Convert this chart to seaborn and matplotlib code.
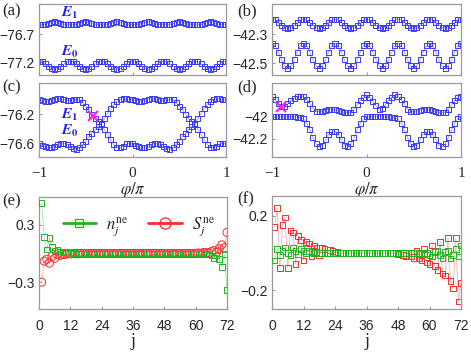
import numpy as np
import pandas as pd
import seaborn as sns
import matplotlib.pyplot as plt
from matplotlib.lines import Line2D

sns.set_theme(style='white')
plt.rcParams['font.family'] = ['Liberation Sans', 'DejaVu Sans']
plt.rcParams['mathtext.fontset'] = 'stix'
plt.rcParams['axes.unicode_minus'] = True

# ---------------- data ----------------
phi = np.round(np.linspace(-1, 1, 61), 5)

a_E1 = [-76.53, -76.53, -76.525, -76.51, -76.49, -76.475, -76.49, -76.51, -76.525, -76.53,
        -76.53, -76.53, -76.525, -76.51, -76.49, -76.475, -76.49, -76.51, -76.525, -76.53,
        -76.53, -76.53, -76.525, -76.51, -76.49, -76.475, -76.49, -76.51, -76.525, -76.53,
        -76.53, -76.53, -76.525, -76.51, -76.49, -76.475, -76.49, -76.51, -76.525, -76.53,
        -76.53, -76.53, -76.525, -76.51, -76.49, -76.475, -76.49, -76.51, -76.525, -76.53,
        -76.53, -76.53, -76.525, -76.51, -76.49, -76.475, -76.49, -76.51, -76.525, -76.53,
        -76.53]
a_E0 = [-77.18, -77.194, -77.232, -77.278, -77.316, -77.33, -77.316, -77.278, -77.232, -77.194,
        -77.18, -77.194, -77.232, -77.278, -77.316, -77.33, -77.316, -77.278, -77.232, -77.194,
        -77.18, -77.194, -77.232, -77.278, -77.316, -77.33, -77.316, -77.278, -77.232, -77.194,
        -77.18, -77.194, -77.232, -77.278, -77.316, -77.33, -77.316, -77.278, -77.232, -77.194,
        -77.18, -77.194, -77.232, -77.278, -77.316, -77.33, -77.316, -77.278, -77.232, -77.194,
        -77.18, -77.194, -77.232, -77.278, -77.316, -77.33, -77.316, -77.278, -77.232, -77.194,
        -77.18]
b_E1 = [-42.198, -42.204, -42.220, -42.240, -42.256, -42.262, -42.256, -42.240, -42.220, -42.204,
        -42.198, -42.204, -42.220, -42.240, -42.256, -42.262, -42.256, -42.240, -42.220, -42.204,
        -42.198, -42.204, -42.220, -42.240, -42.256, -42.262, -42.256, -42.240, -42.220, -42.204,
        -42.198, -42.204, -42.220, -42.240, -42.256, -42.262, -42.256, -42.240, -42.220, -42.204,
        -42.198, -42.204, -42.220, -42.240, -42.256, -42.262, -42.256, -42.240, -42.220, -42.204,
        -42.198, -42.204, -42.220, -42.240, -42.256, -42.262, -42.256, -42.240, -42.220, -42.204,
        -42.198]
b_E0 = [-42.364, -42.380, -42.423, -42.475, -42.518, -42.534, -42.518, -42.475, -42.423, -42.380,
        -42.364, -42.380, -42.423, -42.475, -42.518, -42.534, -42.518, -42.475, -42.423, -42.380,
        -42.364, -42.380, -42.423, -42.475, -42.518, -42.534, -42.518, -42.475, -42.423, -42.380,
        -42.364, -42.380, -42.423, -42.475, -42.518, -42.534, -42.518, -42.475, -42.423, -42.380,
        -42.364, -42.380, -42.423, -42.475, -42.518, -42.534, -42.518, -42.475, -42.423, -42.380,
        -42.364, -42.380, -42.423, -42.475, -42.518, -42.534, -42.518, -42.475, -42.423, -42.380,
        -42.364]
c_E1 = [-76.0, -76.01, -76.02, -76.02, -76.01, -75.995, -75.99, -75.99, -76.0, -76.01,
        -76.01, -76.0, -75.995, -76.0, -76.04, -76.09, -76.14, -76.2, -76.26, -76.3,
        -76.34, -76.41, -76.48, -76.55, -76.62, -76.66, -76.66, -76.64, -76.61, -76.6,
        -76.61, -76.63, -76.65, -76.66, -76.66, -76.65, -76.62, -76.6, -76.6, -76.62,
        -76.65, -76.67, -76.68, -76.66, -76.62, -76.57, -76.51, -76.46, -76.41, -76.37,
        -76.33, -76.26, -76.19, -76.12, -76.06, -76.02, -76.0, -75.99, -75.99, -76.0,
        -76.0]
c_E0 = [-76.61, -76.63, -76.65, -76.66, -76.66, -76.65, -76.62, -76.6, -76.6, -76.62,
        -76.65, -76.67, -76.68, -76.66, -76.62, -76.57, -76.51, -76.46, -76.41, -76.37,
        -76.33, -76.26, -76.19, -76.12, -76.06, -76.02, -76.0, -75.99, -75.99, -76.0,
        -76.0, -76.01, -76.02, -76.02, -76.01, -75.995, -75.99, -75.99, -76.0, -76.01,
        -76.01, -76.0, -75.995, -76.0, -76.04, -76.09, -76.14, -76.2, -76.26, -76.3,
        -76.34, -76.41, -76.48, -76.55, -76.62, -76.66, -76.66, -76.64, -76.61, -76.6,
        -76.61]
d_up = [-41.815, -41.845, -41.88, -41.91, -41.905, -41.88, -41.85, -41.83, -41.815, -41.81,
        -41.815, -41.84, -41.88, -41.92, -41.95, -41.955, -41.95, -41.94, -41.93, -41.93,
        -41.935, -41.945, -41.955, -41.96, -41.965, -41.96, -41.93, -41.89, -41.85, -41.82,
        -41.80, -41.82, -41.86, -41.90, -41.93, -41.92, -41.89, -41.85, -41.82, -41.80,
        -41.815, -41.84, -41.88, -41.93, -41.95, -41.955, -41.95, -41.94, -41.93, -41.93,
        -41.935, -41.945, -41.955, -41.96, -41.965, -41.96, -41.93, -41.89, -41.85, -41.82,
        -41.815]
d_lo = [-42.0, -42.0, -42.0, -42.0, -42.0, -42.0, -42.0, -42.0, -42.005, -42.01,
        -42.02, -42.06, -42.12, -42.19, -42.25, -42.275, -42.26, -42.21, -42.16, -42.14,
        -42.14, -42.16, -42.21, -42.26, -42.275, -42.25, -42.19, -42.12, -42.06, -42.02,
        -42.0, -42.0, -42.0, -42.0, -42.0, -42.0, -42.0, -42.0, -42.005, -42.01,
        -42.02, -42.06, -42.12, -42.19, -42.25, -42.275, -42.26, -42.21, -42.16, -42.14,
        -42.14, -42.16, -42.21, -42.26, -42.275, -42.25, -42.19, -42.12, -42.06, -42.02,
        -42.0]
c_mark = (-0.42, -76.23)
d_mark = (-0.90, -41.91)

j = np.arange(1, 73)
e_n = [0.53, 0.17, 0.04, 0.16, 0.07, 0.03, 0.04, 0.02, 0.02, 0.015, 0.01, 0.01,
       0.005, 0.005, 0.0, 0.0, 0.0, 0.0, 0.0, 0.0, 0.0, 0.0, 0.0, 0.0,
       0.0, 0.0, 0.0, 0.0, 0.0, 0.0, 0.0, 0.0, 0.0, 0.0, 0.0, 0.0,
       0.0, 0.0, 0.0, 0.0, 0.0, 0.0, 0.0, 0.0, 0.0, 0.0, 0.0, 0.0,
       0.0, 0.0, 0.0, 0.0, 0.0, 0.0, 0.0, 0.0, 0.0, 0.0, 0.0, 0.0,
       0.0, -0.005, 0.0, -0.005, -0.01, -0.02, -0.045, -0.02, -0.06, -0.14, -0.01, -0.38]
e_S = [-0.3, -0.08, -0.06, -0.1, -0.03, -0.05, -0.01, -0.02, -0.01, -0.01, 0.0, -0.005,
       0.0, 0.0, 0.0, 0.0, 0.0, 0.0, 0.0, 0.0, 0.0, 0.0, 0.0, 0.0,
       0.0, 0.0, 0.0, 0.0, 0.0, 0.0, 0.0, 0.0, 0.0, 0.0, 0.0, 0.0,
       0.0, 0.0, 0.0, 0.0, 0.0, 0.0, 0.0, 0.0, 0.0, 0.0, 0.0, 0.0,
       0.0, 0.0, 0.0, 0.0, 0.0, 0.0, 0.0, 0.0, 0.0, 0.0, 0.0, 0.0,
       0.005, 0.0, 0.01, 0.005, 0.01, 0.02, 0.03, 0.01, 0.05, 0.09, 0.06, 0.22]
f_n = [-0.04, 0.02, -0.01, 0.01, 0.03, 0.0, -0.01, 0.03, 0.01, -0.005, 0.02, 0.01,
       0.0, 0.01, 0.005, 0.0, 0.005, 0.0, 0.0, 0.0, 0.0, 0.0, 0.0, 0.0,
       0.0, 0.0, 0.0, 0.0, 0.0, 0.0, 0.0, 0.0, 0.0, 0.0, 0.0, 0.0,
       0.0, 0.0, 0.0, 0.0, 0.0, 0.0, 0.0, 0.0, 0.0, 0.0, 0.0, 0.0,
       0.0, 0.0, 0.0, 0.0, 0.0, 0.0, 0.0, -0.005, 0.0, -0.005, 0.0, -0.01, -0.02, 0.005,
       0.01, -0.01, -0.03, 0.005, 0.01, -0.03, -0.01, 0.02, -0.02, 0.04]
f_S = [0.14, 0.24, -0.08, 0.15, 0.19, -0.08, 0.12, 0.11, -0.06, 0.09, 0.07, -0.04,
       0.06, 0.05, -0.02, 0.04, 0.03, -0.01, 0.03, 0.02, 0.0, 0.015, 0.01, 0.0,
       0.005, 0.0, 0.0, 0.0, 0.0, 0.0, 0.0, 0.0, 0.0, 0.0, 0.0, 0.0,
       0.0, 0.0, 0.0, 0.0, 0.0, 0.0, 0.0, 0.0, 0.0, 0.0, 0.0, -0.005,
       0.0, -0.01, -0.015, 0.0, -0.02, -0.03, 0.01, -0.03, -0.04, 0.02, -0.05, -0.06,
       0.04, -0.07, -0.09, 0.06, -0.11, -0.12, 0.08, -0.15, -0.19, 0.08, -0.26, -0.16]

# ---------------- style ----------------
BLUE = '#3a3aff'
BLUE_L = '#a0a0ff'
GREEN = '#22b422'
GREEN_L = '#a8dca8'
RED = '#ff2a2a'
RED_L = '#ffb0b0'
GRAY = '#9a9a9a'
SERIF = 'Liberation Serif'

fig = plt.figure(figsize=(4.71, 3.54), dpi=100)


def fa(x0, y0, x1, y1):
    return fig.add_axes([x0 / 471, 1 - y1 / 354, (x1 - x0) / 471, (y1 - y0) / 354])


axa = fa(39, 4, 226, 75)
axb = fa(272, 4, 461, 75)
axc = fa(39, 83, 226, 157)
axd = fa(272, 83, 461, 157)
axe = fa(39, 197, 227, 309)
axf = fa(272, 196, 461, 309)


def style(ax):
    for s in ['left', 'bottom', 'top', 'right']:
        ax.spines[s].set_color(GRAY)
        ax.spines[s].set_linewidth(0.9)
    ax.tick_params(direction='in', length=2.5, width=0.8, color=GRAY,
                   labelsize=10, pad=3, top=False, right=False, left=True, bottom=True)
    ax.grid(False)


def curve(ax, x, y, lc, mc, marker, ms, z):
    df = pd.DataFrame({'x': x, 'y': y})
    sns.lineplot(data=df, x='x', y='y', ax=ax, color=lc, linewidth=0.6, sort=False,
                 legend=False, zorder=z)
    sns.scatterplot(data=df, x='x', y='y', ax=ax, marker=marker, s=ms,
                    facecolors='none', edgecolor=mc, linewidth=0.7, legend=False,
                    zorder=z + 0.5, clip_on=True)


for ax, ys in [(axa, [a_E1, a_E0]), (axb, [b_E1, b_E0]),
               (axc, [c_E1, c_E0]), (axd, [d_up, d_lo])]:
    for y in ys:
        curve(ax, phi, y, BLUE_L, BLUE, 's', 13, 2)
    ax.set_xlim(-1, 1)
    ax.set_xticks([-1, 0, 1])
    ax.set_xlabel('')
    ax.set_ylabel('')
    style(ax)

axa.set_ylim(-77.43, -76.16)
axa.set_yticks([-77.2, -76.7])
axa.set_yticklabels(['\u221277.2', '\u221276.7'])
axb.set_ylim(-42.58, -42.095)
axb.set_yticks([-42.5, -42.3])
axb.set_yticklabels(['\u221242.5', '\u221242.3'])
axc.set_ylim(-76.79, -75.77)
axc.set_yticks([-76.6, -76.2])
axc.set_yticklabels(['\u221276.6', '\u221276.2'])
axd.set_ylim(-42.37, -41.69)
axd.set_yticks([-42.2, -42.0])
axd.set_yticklabels(['\u221242.2', '\u221242'])

for ax in (axa, axb):
    ax.set_xticklabels([])
for ax in (axc, axd):
    ax.set_xticklabels(['\u22121', '0', '1'], fontfamily=SERIF, fontsize=11)
    ax.tick_params(axis='x', pad=7)
    ax.set_xlabel(r'$\varphi/\pi$', fontsize=12, labelpad=0)

# crossing markers
axc.plot([c_mark[0]], [c_mark[1]], marker='x', color='#ff22dd', markersize=7, mew=1.6, zorder=5)
axd.plot([d_mark[0]], [d_mark[1]], marker='x', color='#ff22dd', markersize=7, mew=1.6, zorder=5)

# state labels
lab_kw = dict(color='#2222ee', fontsize=11, ha='left', va='center')
axa.text(-0.76, -76.32, r'$\mathbfit{E}_{\mathbf{1}}$', **lab_kw)
axa.text(-0.76, -77.02, r'$\mathbfit{E}_{\mathbf{0}}$', **lab_kw)
axc.text(-0.76, -76.21, r'$\mathbfit{E}_{\mathbf{1}}$', **lab_kw)
axc.text(-0.76, -76.43, r'$\mathbfit{E}_{\mathbf{0}}$', **lab_kw)

# ---------------- bottom panels ----------------
curve(axe, j, e_S, RED_L, RED, 'o', 34, 2)
curve(axe, j, e_n, GREEN_L, GREEN, 's', 16, 4)
axe.set_xlim(0, 72)
axe.set_ylim(-0.58, 0.59)
axe.set_yticks([-0.3, 0.3])
axe.set_yticklabels(['\u22120.3', '0.3'])

curve(axf, j, f_S, RED_L, RED, 's', 16, 2)
curve(axf, j, f_n, GREEN_L, GREEN, 's', 16, 4)
axf.set_xlim(0, 72)
axf.set_ylim(-0.3, 0.305)
axf.set_yticks([-0.2, 0.2])
axf.set_yticklabels(['\u22120.2', '0.2'])

for ax in (axe, axf):
    ax.set_xticks([0, 12, 24, 36, 48, 60, 72])
    style(ax)
    ax.tick_params(axis='x', pad=7)
    ax.set_ylabel('')
    ax.set_xlabel('j', fontfamily=SERIF, fontsize=13, labelpad=0)

handles = [Line2D([], [], color=GREEN, lw=2.0, marker='s', markersize=6,
                  markerfacecolor='none', markeredgecolor=GREEN, mew=0.9),
           Line2D([], [], color=RED, lw=2.0, marker='o', markersize=8,
                  markerfacecolor='none', markeredgecolor=RED, mew=0.9)]
axe.legend(handles, [r'$n_j^{\rm ne}$', r'$S_j^{\rm ne}$'], ncol=2, frameon=False,
           loc='upper center', bbox_to_anchor=(0.53, 0.97), fontsize=12,
           handlelength=2.0, columnspacing=1.2, handletextpad=0.6)

# panel labels
for txt, x, y in [('(a)', 2, 11), ('(b)', 237, 11), ('(c)', 2, 87), ('(d)', 237, 87),
                  ('(e)', 2, 201), ('(f)', 237, 199)]:
    fig.text(x / 471, 1 - y / 354, txt, fontfamily=SERIF, fontsize=12,
             ha='left', va='center')

fig.savefig('out.png', dpi=100)
